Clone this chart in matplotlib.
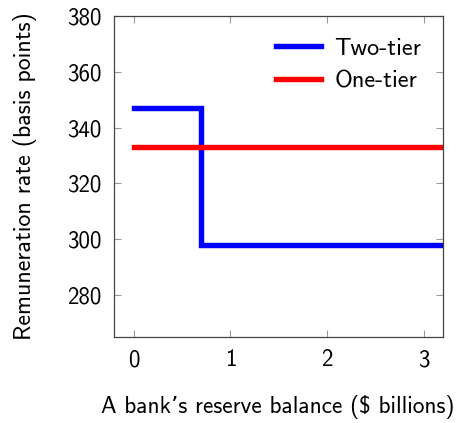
import matplotlib.pyplot as plt

plt.rcParams['font.family'] = ['cmss10', 'DejaVu Sans']
plt.rcParams['axes.unicode_minus'] = False

# data
two_x = [0, 0.7, 0.7, 3.2]
two_y = [347, 347, 298, 298]
one_x = [0, 3.2]
one_y = [333, 333]
xticks = [0, 1, 2, 3]
yticks = [280, 300, 320, 340, 360, 380]

fig = plt.figure(figsize=(4.66, 4.23), dpi=100)
ax = fig.add_axes([0.2453, 0.204, 0.706, 0.758])

ax.plot(two_x, two_y, color='#0000ff', lw=3.9, solid_joinstyle='miter', label='Two-tier')
ax.plot(one_x, one_y, color='#ff0000', lw=3.9, label='One-tier')

ax.set_xlim(-0.2, 3.2)
ax.set_ylim(265, 380)
ax.set_xticks(xticks)
ax.set_yticks(yticks)
ax.tick_params(direction='in', top=True, right=True, length=5, width=0.8,
               color='#999999', labelsize=16.5, pad=9)
for s in ax.spines.values():
    s.set_color('#444444')
    s.set_linewidth(0.9)

ax.set_ylabel('Remuneration rate (basis points)', fontsize=17.2, labelpad=22)
ax.set_xlabel('A bank\u2019s reserve balance (\\$ billions)', fontsize=16.8)
ax.xaxis.set_label_coords(0.497, -0.183)

ax.legend(loc='upper right', frameon=False, fontsize=17.5, handlelength=1.85,
          handletextpad=0.55, labelspacing=0.45, borderaxespad=0.5)

fig.savefig('out.png', dpi=100)
